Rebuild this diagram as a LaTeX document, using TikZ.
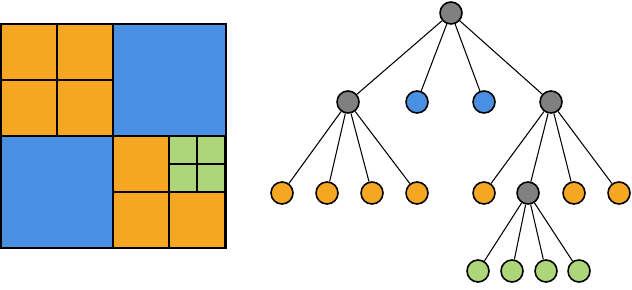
\documentclass[tikz,border=0pt]{standalone}
\usepackage{tikz}
\usetikzlibrary{positioning}
\usepackage{xcolor}
\definecolor{qorange}{HTML}{F5A623}
\definecolor{qblue}{HTML}{4A90E2}
\definecolor{qgreen}{HTML}{ADD57A}
\definecolor{qgray}{HTML}{808080}

\begin{document}
\begin{tikzpicture}[
  x=0.02cm, y=-0.02cm,
  cell/.style={draw=black, line width=0.6pt},
  knot/.style={circle, draw=black, line width=0.9pt, inner sep=0pt,
               minimum size=0.44cm},
  inner/.style={knot, fill=qgray},
  bleaf/.style={knot, fill=qblue},
  oleaf/.style={knot, fill=qorange},
  gleaf/.style={knot, fill=qgreen},
  edge/.style={draw=black, line width=0.6pt}
]
\useasboundingbox (0,0) rectangle (632,290);

% quadtree partition
\fill[qblue] (113,24) rectangle (226,136);
\fill[qblue] (1,136) rectangle (113,248);
\foreach \xa/\ya in {1/24, 57/24, 1/80, 57/80, 113/136, 113/192, 169/192}
  \draw[cell, fill=qorange] (\xa,\ya) rectangle +(56,56);
\foreach \xa/\ya in {169/136, 197/136, 169/164, 197/164}
  \draw[cell, fill=qgreen] (\xa,\ya) rectangle +(28,28);
\draw[cell] (113,24) -- (113,248);
\draw[cell] (1,136) -- (226,136);
\draw[line width=1.2pt] (1,24) rectangle (226,248);

% tree
\node[inner] (root) at (451,13) {};
\node[inner] (nw) at (348,102) {};
\node[bleaf] (ne) at (417,102) {};
\node[bleaf] (sw) at (484,102) {};
\node[inner] (se) at (551,102) {};

\node[oleaf] (nwa) at (282,193) {};
\node[oleaf] (nwb) at (327,193) {};
\node[oleaf] (nwc) at (372,193) {};
\node[oleaf] (nwd) at (417,193) {};

\node[oleaf] (sea) at (484,193) {};
\node[inner] (seb) at (528,193) {};
\node[oleaf] (sec) at (574,193) {};
\node[oleaf] (sed) at (619,193) {};

\node[gleaf] (seba) at (478,271) {};
\node[gleaf] (sebb) at (512,271) {};
\node[gleaf] (sebc) at (546,271) {};
\node[gleaf] (sebd) at (579,271) {};

\draw[edge] (root) -- (nw);
\draw[edge] (root) -- (ne);
\draw[edge] (root) -- (sw);
\draw[edge] (root) -- (se);
\draw[edge] (nw) -- (nwa);
\draw[edge] (nw) -- (nwb);
\draw[edge] (nw) -- (nwc);
\draw[edge] (nw) -- (nwd);
\draw[edge] (se) -- (sea);
\draw[edge] (se) -- (seb);
\draw[edge] (se) -- (sec);
\draw[edge] (se) -- (sed);
\draw[edge] (seb) -- (seba);
\draw[edge] (seb) -- (sebb);
\draw[edge] (seb) -- (sebc);
\draw[edge] (seb) -- (sebd);
\end{tikzpicture}
\end{document}
